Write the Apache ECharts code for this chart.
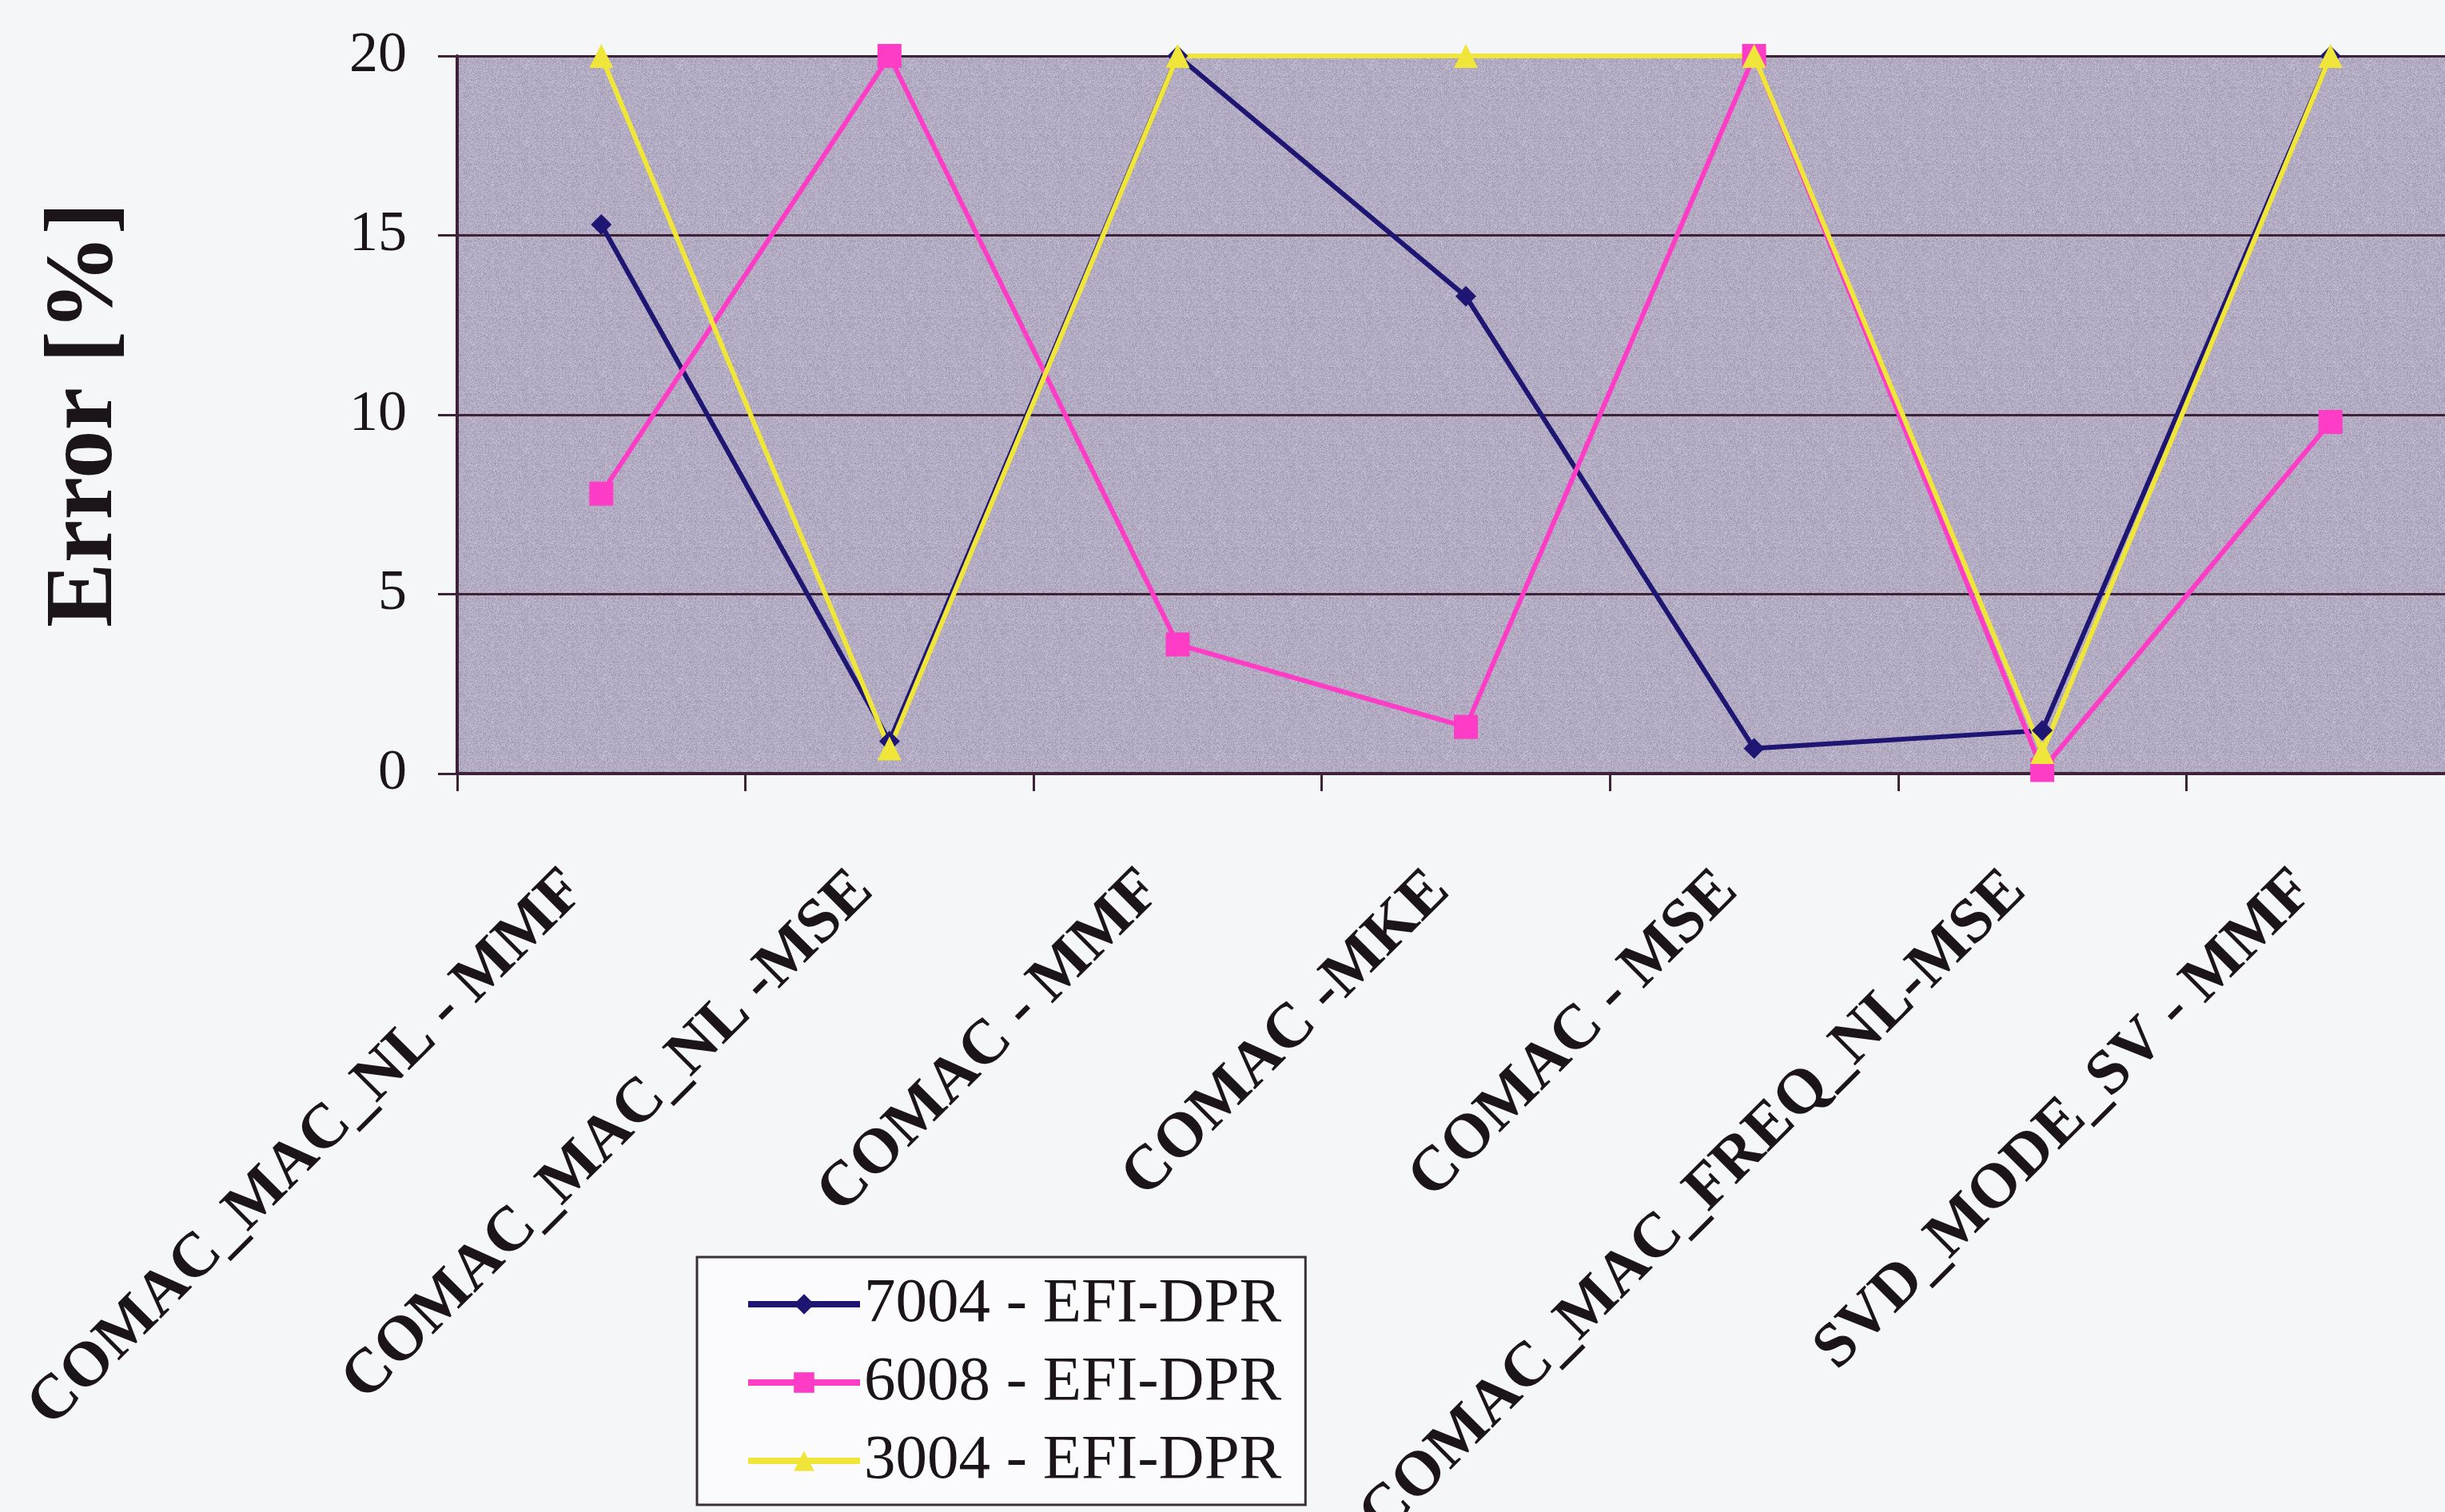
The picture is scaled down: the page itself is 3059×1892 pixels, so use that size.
<!DOCTYPE html>
<html>
<head>
<meta charset="utf-8">
<title>Error comparison</title>
<script src="https://cdn.jsdelivr.net/npm/echarts@6/dist/echarts.min.js"></script>
<style>
  html, body { margin: 0; padding: 0; background: #f5f6f8; }
  #chart { width: 3059px; height: 1892px; }
</style>
</head>
<body>
<div id="chart"></div>
<script>
// Methods compared along the x axis
const categories = [
  'COMAC_MAC_NL - MMF',
  'COMAC_MAC_NL -MSE',
  'COMAC - MMF',
  'COMAC -MKE',
  'COMAC - MSE',
  'COMAC_MAC_FREQ_NL-MSE',
  'SVD_MODE_SV - MMF'
];

// Error [%] per test case
const seriesNames = ['7004 - EFI-DPR', '6008 - EFI-DPR', '3004 - EFI-DPR'];
const err7004 = [15.3, 0.9, 20, 13.3, 0.7, 1.2, 20];
const err6008 = [7.8, 20, 3.6, 1.3, 20, 0.1, 9.8];
const err3004 = [20, 0.7, 20, 20, 20, 0.6, 20];

// Y axis range
const yMin = 0, yMax = 20, yStep = 5;

const serif = '"Liberation Serif", "DejaVu Serif", serif';
const ink = '#1b1418';
const gridInk = '#3e2338';

// Speckled lavender fill for the plot area (deterministic hash noise tile)
function speckleTile() {
  const size = 96;
  const c = document.createElement('canvas');
  c.width = size; c.height = size;
  const ctx = c.getContext('2d');
  const img = ctx.createImageData(size, size);
  for (let y = 0; y < size; y++) {
    for (let x = 0; x < size; x++) {
      const h = Math.sin(x * 12.9898 + y * 78.233) * 43758.5453;
      const n = (h - Math.floor(h)) - 0.5;
      const k = (y * size + x) * 4;
      img.data[k] = 178 + n * 40;
      img.data[k + 1] = 171 + n * 40;
      img.data[k + 2] = 194 + n * 36;
      img.data[k + 3] = 255;
    }
  }
  ctx.putImageData(img, 0, 0);
  return c;
}

const chart = echarts.init(document.getElementById('chart'));

function lineSeries(name, data, color, symbol, size) {
  return {
    name: name,
    type: 'line',
    data: data,
    clip: false,
    symbol: symbol,
    symbolSize: size,
    lineStyle: { color: color, width: 6 },
    itemStyle: { color: color },
    emphasis: { disabled: true }
  };
}

chart.setOption({
  animation: false,
  backgroundColor: '#f5f6f8',
  grid: {
    left: 572,
    top: 70,
    width: 2524,
    height: 898,
    outerBoundsMode: 'none',
    containLabel: false,
    show: true,
    backgroundColor: { image: speckleTile(), repeat: 'repeat' },
    borderWidth: 0
  },
  legend: {
    orient: 'vertical',
    left: 872,
    top: 1573,
    padding: [14, 30, 10, 60],
    itemWidth: 140,
    itemHeight: 32,
    itemGap: 8,
    backgroundColor: '#fbfbfd',
    borderColor: '#3a3038',
    borderWidth: 3,
    borderRadius: 0,
    lineStyle: { width: 8 },
    textStyle: { fontFamily: serif, fontSize: 79, color: ink, lineHeight: 90 },
    data: seriesNames
  },
  xAxis: {
    type: 'category',
    data: categories,
    boundaryGap: true,
    axisLine: { show: true, lineStyle: { color: gridInk, width: 4 } },
    axisTick: { show: true, interval: 0, length: 22, lineStyle: { color: gridInk, width: 3 } },
    axisLabel: {
      interval: 0,
      rotate: 45,
      margin: 102,
      padding: [0, 46, 0, 0],
      fontFamily: serif,
      fontWeight: 'bold',
      fontSize: 79,
      color: ink
    },
    splitLine: { show: false }
  },
  yAxis: {
    type: 'value',
    min: yMin,
    max: yMax,
    interval: yStep,
    name: 'Error [%]',
    nameLocation: 'middle',
    nameRotate: 90,
    nameGap: 404,
    nameTextStyle: { fontFamily: serif, fontWeight: 'bold', fontSize: 121, color: ink },
    axisLine: { show: true, lineStyle: { color: gridInk, width: 4 } },
    axisTick: { show: true, length: 24, lineStyle: { color: gridInk, width: 3 } },
    axisLabel: { margin: 63, fontFamily: serif, fontSize: 72, color: ink },
    splitLine: { show: true, lineStyle: { color: gridInk, width: 3 } }
  },
  series: [
    lineSeries(seriesNames[0], err7004, '#1e1672', 'diamond', 26),
    lineSeries(seriesNames[1], err6008, '#ff3cc6', 'rect', 30),
    lineSeries(seriesNames[2], err3004, '#f0e63a', 'triangle', 30)
  ]
});
</script>
</body>
</html>
